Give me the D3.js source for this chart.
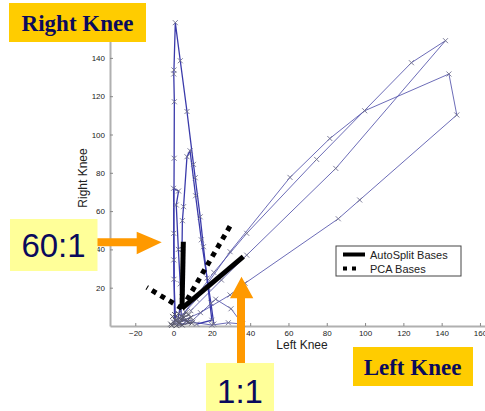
<!DOCTYPE html>
<html>
<head>
<meta charset="utf-8">
<script src="https://cdn.jsdelivr.net/npm/d3@7"></script>
<style>
  html, body { margin: 0; padding: 0; background: #fff; overflow: hidden; }
  svg { display: block; }
</style>
</head>
<body>
<svg id="chart" width="485" height="411"></svg>
<script>
// Knee angle trajectories in degrees: left knee on x, right knee on y.
const loopOuter = [[2,3],[12,14],[29.5,38.8],[60.8,77.6],[81.6,97.9],[99.8,112.4],[143.8,131.6],[147.9,110.2],[97.2,65.8],[86,56],[37.3,22.3],[29.5,16.2],[14,7],[3,2]];
const loopInner = [[5,6],[21,28],[38.2,48.4],[74.7,87],[124.2,137.5],[142,149],[84.7,82.3],[38.2,37],[25,24],[9,8]];
const spikeTall = [[1,3],[0.2,24.4],[0.1,34.5],[0.1,48.4],[0.3,87.6],[0.4,117.1],[0.1,131.6],[0.2,133.7],[0.9,158.4],[3.5,138.5],[7,112],[10.4,84.4],[11.3,77.4],[13.9,57],[15.6,41.4],[18,20],[20,3],[12,1]];
const spikeMid = [[2,2],[4.4,15.3],[4.4,40],[4.6,55],[5.2,62.3],[7,88.4],[8.6,91.5],[11.5,68],[14.5,45],[17.5,25],[19.5,12],[21,1]];
const spikeLow = [[0.5,2],[0,71.9],[2.6,70.5],[1.4,63.2],[2.5,40],[3.5,22],[4,5]];
const floorPath = [[3,1],[10,2],[20,0.5],[28.6,1.7],[36,1],[30,9],[22,14],[10,3],[0,2]];
const originCluster = [[-1.5,1],[1,3],[-0.5,5],[3,1.5],[5.5,4.5],[2.5,6.5],[7.5,2],[0.5,6],[4.5,0.5],[9,4.5],[-1,0.3],[6.5,7],[1.5,0.2],[9.5,1.5],[3.5,3.5],[8,6]];

// Basis directions found by the two methods, drawn from a shared origin.
const basisOrigin = [4.4, 9.2];
const autoSplitTips = [[5.1, 44], [36.4, 36.2]];
const pcaTips = [[-14, 20.2], [30, 53]];

const xTicks = [-20, 0, 20, 40, 60, 80, 100, 120, 140, 160];
const yTicks = [20, 40, 60, 80, 100, 120, 140];
const legendLabels = ["AutoSplit Bases", "PCA Bases"];
const xTitle = "Left Knee";
const yTitle = "Right Knee";

const svg = d3.select("#chart");
const x = d3.scaleLinear().domain([-33.2, 163]).range([110, 485.7]);
const y = d3.scaleLinear().domain([0, 160]).range([326, 19.6]);

// Axes
const gx = svg.append("g")
  .attr("transform", `translate(0,${y(0)})`)
  .call(d3.axisBottom(x).tickValues(xTicks).tickSize(-3).tickSizeOuter(0).tickPadding(4));
const gy = svg.append("g")
  .attr("transform", `translate(${x(-33.2)},0)`)
  .call(d3.axisLeft(y).tickValues(yTicks).tickSize(-3).tickSizeOuter(0).tickPadding(5));
[gx, gy].forEach(g => {
  g.select(".domain").attr("stroke", "#b0b0b0").attr("stroke-width", 2);
  g.selectAll(".tick line").attr("stroke", "#888");
  g.selectAll(".tick text").attr("fill", "#222")
    .style("font-family", "'Liberation Sans', Arial, sans-serif").style("font-size", "8px");
});

svg.append("text")
  .attr("x", 302).attr("y", 349)
  .attr("text-anchor", "middle")
  .style("font-family", "'Liberation Sans', Arial, sans-serif").style("font-size", "12px")
  .attr("fill", "#222").text(xTitle);
svg.append("text")
  .attr("transform", "translate(87,178) rotate(-90)")
  .attr("text-anchor", "middle")
  .style("font-family", "'Liberation Sans', Arial, sans-serif").style("font-size", "12px")
  .attr("fill", "#222").text(yTitle);

// Trajectories
const line = d3.line().x(d => x(d[0])).y(d => y(d[1]));
const loops = [loopOuter, loopInner, floorPath];
const spikes = [spikeTall, spikeMid, spikeLow];
const gData = svg.append("g");
gData.selectAll("path.loop").data(loops).join("path")
  .attr("class", "loop")
  .attr("d", line)
  .attr("fill", "none")
  .attr("stroke", "#5252aa")
  .attr("stroke-width", 1)
  .attr("stroke-opacity", 0.85);
gData.selectAll("path.spike").data(spikes).join("path")
  .attr("class", "spike")
  .attr("d", line)
  .attr("fill", "none")
  .attr("stroke", "#3a3aaa")
  .attr("stroke-width", 1.3);
gData.append("path")
  .attr("d", line(originCluster))
  .attr("fill", "none").attr("stroke", "#555577").attr("stroke-width", 1);

const cross = "M-2.5,-2.5L2.5,2.5M-2.5,2.5L2.5,-2.5";
const allPts = loops.concat(spikes).flat();
gData.selectAll("path.mk").data(allPts).join("path")
  .attr("class", "mk")
  .attr("d", cross)
  .attr("transform", d => `translate(${x(d[0])},${y(d[1])})`)
  .attr("fill", "none").attr("stroke", "#707090").attr("stroke-width", 0.9);
gData.selectAll("path.mkc").data(originCluster).join("path")
  .attr("class", "mkc")
  .attr("d", cross)
  .attr("transform", d => `translate(${x(d[0])},${y(d[1])})`)
  .attr("fill", "none").attr("stroke", "#5a5a6a").attr("stroke-width", 1);

// Bases
const gBases = svg.append("g");
gBases.selectAll("line.pca").data(pcaTips).join("line")
  .attr("class", "pca")
  .attr("x1", x(basisOrigin[0])).attr("y1", y(basisOrigin[1]))
  .attr("x2", d => x(d[0])).attr("y2", d => y(d[1]))
  .attr("stroke", "#000").attr("stroke-width", 5).attr("stroke-dasharray", "5,5");
gBases.selectAll("line.auto").data(autoSplitTips).join("line")
  .attr("class", "auto")
  .attr("x1", x(basisOrigin[0])).attr("y1", y(basisOrigin[1]))
  .attr("x2", d => x(d[0])).attr("y2", d => y(d[1]))
  .attr("stroke", "#000").attr("stroke-width", 5);

// Legend
const lg = svg.append("g").attr("transform", "translate(336,246)");
lg.append("rect").attr("width", 125).attr("height", 30)
  .attr("fill", "#fff").attr("stroke", "#444").attr("stroke-width", 1);
legendLabels.forEach((lab, i) => {
  const yy = 8.5 + i * 14;
  lg.append("line").attr("x1", 7).attr("x2", i === 0 ? 29 : 23).attr("y1", yy).attr("y2", yy)
    .attr("stroke", "#000").attr("stroke-width", 4)
    .attr("stroke-dasharray", i === 0 ? null : "4,5");
  lg.append("text").attr("x", 34).attr("y", yy + 4)
    .style("font-family", "'Liberation Sans', Arial, sans-serif").style("font-size", "11px")
    .attr("fill", "#222").text(lab);
});

// Callouts
const navy = "#0a0a5c";
const orange = "#ff9900";
function box(x0, y0, w, h, fill) {
  svg.append("rect").attr("x", x0).attr("y", y0).attr("width", w).attr("height", h).attr("fill", fill);
}
box(9, 3, 137, 39, "#ffcc00");
svg.append("text").attr("x", 77.5).attr("y", 31).attr("text-anchor", "middle")
  .style("font-family", "'Liberation Serif', 'Times New Roman', serif").style("font-weight", "bold")
  .style("font-size", "23px").attr("fill", navy).text("Right Knee");

box(353, 347, 120, 39, "#ffcc00");
svg.append("text").attr("x", 412.5).attr("y", 375).attr("text-anchor", "middle")
  .style("font-family", "'Liberation Serif', 'Times New Roman', serif").style("font-weight", "bold")
  .style("font-size", "23px").attr("fill", navy).text(xTitle);

// 60:1 arrow and label
svg.append("path")
  .attr("d", "M97,238.3 L136.7,238.3 L136.7,231.7 L161.7,242.3 L136.7,254.3 L136.7,246.3 L97,246.3 Z")
  .attr("fill", orange);
box(10, 219, 87.5, 52, "#ffff99");
svg.append("text").attr("x", 53.5).attr("y", 257).attr("text-anchor", "middle")
  .style("font-family", "'Liberation Sans', Arial, sans-serif").style("font-size", "33px")
  .attr("fill", navy).text("60:1");

// 1:1 arrow and label
svg.append("path")
  .attr("d", "M237,363 L237,298.3 L230,298.3 L241.5,276.7 L253.3,298.3 L245,298.3 L245,363 Z")
  .attr("fill", orange);
box(206, 363, 68, 48, "#ffff99");
svg.append("text").attr("x", 240).attr("y", 403).attr("text-anchor", "middle")
  .style("font-family", "'Liberation Sans', Arial, sans-serif").style("font-size", "33px")
  .attr("fill", navy).text("1:1");
</script>
</body>
</html>
